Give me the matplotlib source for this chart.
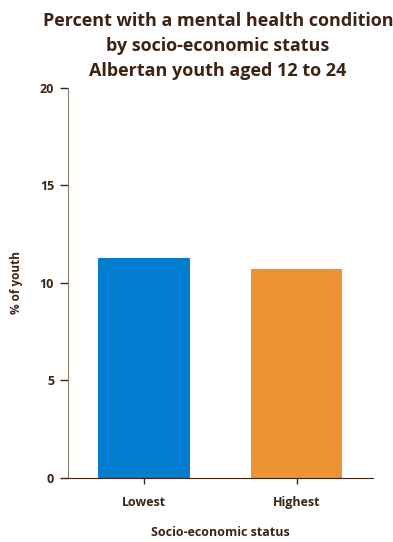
import matplotlib.pyplot as plt

# данные
groups = ["Lowest", "Highest"]
values = [11.3, 10.7]
colors = ["#007dcf", "#ee9333"]
yticks = [0, 5, 10, 15, 20]

txt = "#3d2314"
plt.rcParams['font.family'] = ['Open Sans', 'DejaVu Sans']
plt.rcParams['font.weight'] = 'bold'

fig = plt.figure(figsize=(3.93, 5.42), dpi=100)
ax = fig.add_axes([0.173, 0.118, 0.776, 0.720])

x = range(len(groups))
ax.bar(x, values, width=0.6, color=colors)

ax.set_xlim(-0.5, 1.5)
ax.set_ylim(0, 20)
ax.set_yticks(yticks)
ax.set_xticks(list(x))
ax.set_xticklabels(groups)

ax.spines['top'].set_visible(False)
ax.spines['right'].set_visible(False)
ax.spines['left'].set_color("#8a7a6a")
ax.spines['bottom'].set_color(txt)
ax.tick_params(axis='y', colors=txt, labelsize=9, length=6, width=1, pad=4)
ax.tick_params(axis='x', colors=txt, labelsize=9, length=4, width=1, pad=9)

ax.set_ylabel('% of youth', fontsize=8.5, color=txt, fontweight='bold', labelpad=12)
ax.set_xlabel('Socio-economic status', fontsize=9, color=txt, fontweight='bold', labelpad=12)

fig.suptitle('Percent with a mental health condition\nby socio-economic status\nAlbertan youth aged 12 to 24',
             x=0.555, y=0.978, fontsize=13, fontweight='bold', color=txt, linespacing=1.5)

plt.savefig('out.png', dpi=100)
